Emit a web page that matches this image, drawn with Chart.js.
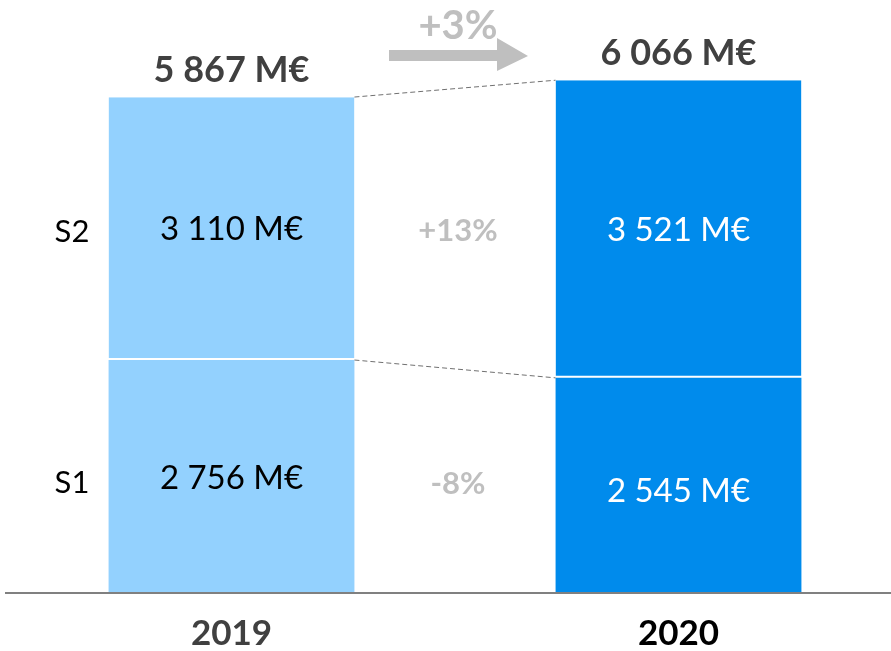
<!DOCTYPE html>
<html>
<head>
<meta charset="utf-8">
<script src="https://cdn.jsdelivr.net/npm/chart.js@4"></script>
<style>
  html, body { margin: 0; padding: 0; background: #fff; overflow: hidden; }
  #wrap { width: 902px; height: 651px; }
</style>
</head>
<body>
<div id="wrap"><canvas id="myChart" width="902" height="651"></canvas></div>
<script>
// data
const years = ['2019', '2020'];
const s1 = [2756, 2545];
const s2 = [3110, 3521];
const totals = [5867, 6066];
const seriesNames = ['S1', 'S2'];
const changeS1 = '-8%';
const changeS2 = '+13%';
const changeTotal = '+3%';

const barColors = ['#93D1FE', '#008BEC'];
const FONT = 'Lato, "Liberation Sans", sans-serif';

const fmt = v => String(v).replace(/\B(?=(\d{3})+(?!\d))/g, ' ') + ' M€';

const overlay = {
  id: 'overlay',
  afterDatasetsDraw(chart) {
    const ctx = chart.ctx;
    const x = chart.scales.x, y = chart.scales.y;
    const area = chart.chartArea;
    const m1 = chart.getDatasetMeta(1);
    ctx.save();

    // baseline
    ctx.strokeStyle = '#808080';
    ctx.lineWidth = 2;
    ctx.beginPath();
    ctx.moveTo(5, area.bottom);
    ctx.lineTo(chart.width, area.bottom);
    ctx.stroke();

    // dashed connectors
    const b0 = m1.data[0], b1 = m1.data[1];
    const half0 = b0.width / 2, half1 = b1.width / 2;
    ctx.strokeStyle = '#707070';
    ctx.lineWidth = 1;
    ctx.setLineDash([5, 3]);
    ctx.beginPath();
    ctx.moveTo(b0.x + half0, y.getPixelForValue(totals[0]));
    ctx.lineTo(b1.x - half1, y.getPixelForValue(totals[1]));
    ctx.moveTo(b0.x + half0, y.getPixelForValue(s1[0]));
    ctx.lineTo(b1.x - half1, y.getPixelForValue(s1[1]));
    ctx.stroke();
    ctx.setLineDash([]);

    ctx.textAlign = 'center';
    ctx.textBaseline = 'middle';

    // values inside bars
    ctx.font = '33px ' + FONT;
    years.forEach((yr, i) => {
      ctx.fillStyle = i === 0 ? '#000' : '#fff';
      const mid1 = (y.getPixelForValue(0) + y.getPixelForValue(s1[i])) / 2;
      const mid2 = (y.getPixelForValue(s1[i]) + y.getPixelForValue(s1[i] + s2[i])) / 2;
      const off = i === 0 ? 2 : 6;
      ctx.fillText(fmt(s1[i]), x.getPixelForValue(i), mid1 + off);
      ctx.fillText(fmt(s2[i]), x.getPixelForValue(i), mid2 + 1);
    });

    // totals
    ctx.font = 'bold 36px ' + FONT;
    ctx.fillStyle = '#404040';
    years.forEach((yr, i) => {
      ctx.fillText(fmt(totals[i]), x.getPixelForValue(i), y.getPixelForValue(totals[i]) - 27);
    });

    // series names on left
    ctx.font = '31px ' + FONT;
    ctx.fillStyle = '#000';
    const lx = 72;
    ctx.fillText(seriesNames[1], lx, (y.getPixelForValue(s1[0]) + y.getPixelForValue(totals[0])) / 2 + 3);
    ctx.fillText(seriesNames[0], lx, (y.getPixelForValue(0) + y.getPixelForValue(s1[0])) / 2 + 6);

    // change labels in middle
    const cx = (x.getPixelForValue(0) + x.getPixelForValue(1)) / 2 + 3;
    ctx.font = 'bold 31px ' + FONT;
    ctx.fillStyle = '#BFBFBF';
    ctx.fillText(changeS2, cx, 231);
    ctx.fillText(changeS1, cx, 484);

    // arrow + total change
    ctx.font = 'bold 40px ' + FONT;
    ctx.fillText(changeTotal, cx, 26);
    ctx.beginPath();
    ctx.moveTo(389, 50);
    ctx.lineTo(497, 50);
    ctx.lineTo(497, 38);
    ctx.lineTo(528, 56);
    ctx.lineTo(497, 71);
    ctx.lineTo(497, 61);
    ctx.lineTo(389, 61);
    ctx.closePath();
    ctx.fill();

    // category labels
    ctx.font = 'bold 35px ' + FONT;
    years.forEach((yr, i) => {
      ctx.fillStyle = i === 0 ? '#404040' : '#000';
      ctx.fillText(yr, x.getPixelForValue(i), 634);
    });

    ctx.restore();
  }
};

const ctx = document.getElementById('myChart').getContext('2d');
const chart = new Chart(ctx, {
  type: 'bar',
  data: {
    labels: years,
    datasets: [
      {
        label: seriesNames[0],
        data: s1,
        backgroundColor: barColors,
        borderWidth: 0
      },
      {
        label: seriesNames[1],
        data: s2,
        backgroundColor: barColors,
        borderColor: '#ffffff',
        borderWidth: { top: 0, left: 0, right: 0, bottom: 2 },
        borderSkipped: false
      }
    ]
  },
  options: {
    responsive: false,
    animation: false,
    layout: { padding: { left: 8, right: 0, top: 0, bottom: 58 } },
    plugins: { legend: { display: false }, tooltip: { enabled: false } },
    datasets: { bar: { categoryPercentage: 1, barPercentage: 0.55 } },
    scales: {
      x: { stacked: true, display: false },
      y: { stacked: true, display: false, min: 0, max: 7015 }
    }
  },
  plugins: [overlay]
});
</script>
</body>
</html>
